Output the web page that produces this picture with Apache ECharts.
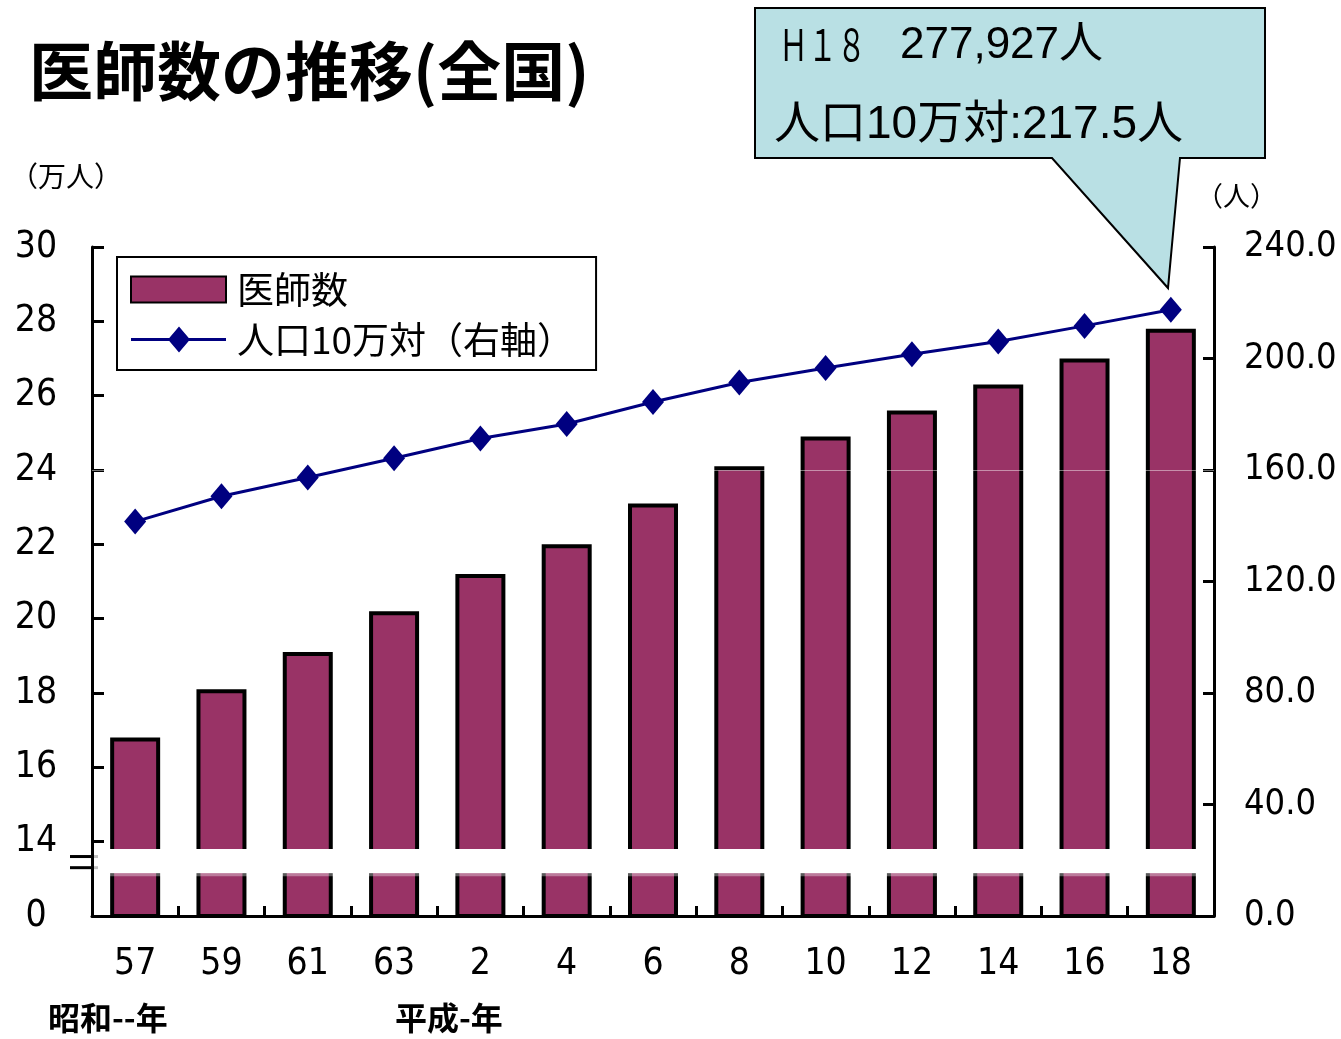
<!DOCTYPE html>
<html><head><meta charset="utf-8">
<script src="https://cdn.jsdelivr.net/npm/echarts@6/dist/echarts.min.js"></script>
<style>html,body{margin:0;padding:0;background:#fff}#c{width:1341px;height:1039px}</style>
</head><body><div id="c"></div>
<script>
// ---- data ----
var categories = ['57','59','61','63','2','4','6','8','10','12','14','16','18'];
var doctors = [16.8, 18.1, 19.1, 20.2, 21.2, 22.0, 23.1, 24.1, 24.9, 25.6, 26.3, 27.0, 27.8]; // 万人
var per100k = [141.5, 150.6, 157.3, 164.2, 171.3, 176.5, 184.4, 191.4, 196.6, 201.5, 206.1, 211.7, 217.5]; // 人
var leftTicks = {12:'0',14:'14',16:'16',18:'18',20:'20',22:'22',24:'24',26:'26',28:'28',30:'30'};
var seriesNames = ['医師数','人口10万対（右軸）'];

var NARROW = "'Liberation Sans Narrow','DejaVu Sans Condensed','Noto Sans CJK JP',sans-serif";
var CJK = "'Noto Sans CJK JP',sans-serif";
var chart = echarts.init(document.getElementById('c'), null, {renderer:'canvas'});

chart.setOption({
  animation:false,
  backgroundColor:'#fff',
  title:{text:'医師数の推移(全国)', left:24, top:34,
    textStyle:{fontSize:64, fontWeight:'bold', fontFamily:CJK, color:'#000'}},
  legend:{
    orient:'vertical', left:117, top:257,
    padding:[14,22,12,13], borderColor:'#000', borderWidth:2, backgroundColor:'#fff',
    itemWidth:95, itemHeight:26, itemGap:13,
    textStyle:{fontSize:37, fontFamily:CJK, color:'#000', padding:[0,0,0,6]},
    data:[{name:seriesNames[0], icon:'rect'},
          {name:seriesNames[1], icon:'path://M0 11.5 H95 V14.5 H0 Z M48 0 L59 13 L48 26 L37 13 Z'}]
  },
  grid:{left:92, right:127, top:247, bottom:123, outerBoundsMode:'none', containLabel:false},
  xAxis:{type:'category', data:categories,
    axisLine:{lineStyle:{color:'#000', width:3}},
    axisTick:{show:true, inside:true, length:10, lineStyle:{color:'#000', width:3}},
    axisLabel:{fontSize:37, fontFamily:NARROW, color:'#000', margin:30}},
  yAxis:[
    {type:'value', min:12, max:30, interval:2,
      axisLine:{show:true, lineStyle:{color:'#000', width:3}},
      axisTick:{show:true, inside:true, length:12, lineStyle:{color:'#000', width:3}},
      splitLine:{show:false},
      axisLabel:{fontSize:37, fontFamily:NARROW, color:'#000', margin:56, align:'center',
        formatter:function(v){return leftTicks[v]!==undefined?leftTicks[v]:'';}}},
    {type:'value', min:0, max:240, interval:40, position:'right',
      axisLine:{show:true, lineStyle:{color:'#000', width:3}},
      axisTick:{show:true, inside:true, length:11, lineStyle:{color:'#000', width:3}},
      splitLine:{show:false},
      axisLabel:{fontSize:36, fontFamily:NARROW, color:'#000', margin:30, align:'left',
        formatter:function(v){return v.toFixed(1);}}}
  ],
  series:[
    {name:seriesNames[0], type:'bar', data:doctors, barWidth:50, yAxisIndex:0,
      itemStyle:{color:'#993366', borderColor:'#000', borderWidth:4},
      markLine:{silent:true, symbol:'none', label:{show:false},
        lineStyle:{color:'rgba(255,255,255,0.45)', width:1, type:'solid'},
        data:[{yAxis:24}]}},
    {name:seriesNames[1], type:'line', data:per100k, yAxisIndex:1,
      symbol:'diamond', symbolSize:[22,26],
      lineStyle:{color:'#000080', width:3}, itemStyle:{color:'#000080'}, z:5}
  ]
});

// axis break decoration and annotations
var g = [];
var yTop = chart.convertToPixel({yAxisIndex:0}, 13.8);
var yBot = chart.convertToPixel({yAxisIndex:0}, 13.15);
var y1 = chart.convertToPixel({yAxisIndex:0}, 13.6);
var y2 = chart.convertToPixel({yAxisIndex:0}, 13.3);
var half = (chart.convertToPixel({xAxisIndex:0}, 1) - chart.convertToPixel({xAxisIndex:0}, 0)) / 2;
var xl = chart.convertToPixel({xAxisIndex:0}, 0) - half;
var xr = chart.convertToPixel({xAxisIndex:0}, categories.length-1) + half;
g.push({type:'rect', shape:{x:xl+2, y:yTop, width:xr-xl-4, height:yBot-yTop}, style:{fill:'#fff'}, z:100});
g.push({type:'rect', shape:{x:xl+2, y:yBot, width:xr-xl-4, height:3}, style:{fill:'rgba(255,255,255,0.35)'}, z:100});
g.push({type:'line', shape:{x1:xl-22, y1:y1, x2:xl, y2:y1}, style:{stroke:'#000', lineWidth:3}, z:101});
g.push({type:'line', shape:{x1:xl-22, y1:y2, x2:xl, y2:y2}, style:{stroke:'#000', lineWidth:3}, z:101});
g.push({type:'line', shape:{x1:xl+1, y1:y1, x2:xl+6, y2:y1}, style:{stroke:'rgba(0,0,0,0.25)', lineWidth:3}, z:101});
g.push({type:'line', shape:{x1:xl+1, y1:y2, x2:xl+6, y2:y2}, style:{stroke:'rgba(0,0,0,0.25)', lineWidth:3}, z:101});
// axis unit labels
g.push({type:'text', left:10, top:162, style:{text:'（万人）', font:'28px '+CJK, fill:'#000'}, z:110});
g.push({type:'text', left:1196, top:182, style:{text:'（人）', font:'27px '+CJK, fill:'#000'}, z:110});
// era labels
g.push({type:'text', left:48, top:1002, style:{text:'昭和--年', font:'bold 32px '+CJK, fill:'#000'}, z:110});
g.push({type:'text', left:395, top:1002, style:{text:'平成-年', font:'bold 32px '+CJK, fill:'#000'}, z:110});
// callout
g.push({type:'polygon', shape:{points:[[755,8],[1265,8],[1265,158],[1180,158],[1168,288],[1052,158],[755,158]]},
  style:{fill:'#B9E0E4', stroke:'#000', lineWidth:2}, z:120});
g.push({type:'text', x:779, y:22, scaleX:0.66, style:{text:'Ｈ１８', font:'44px '+CJK, fill:'#000'}, z:121});
g.push({type:'text', x:900, y:24, style:{text:'277,927人', font:"44px 'Liberation Sans','Noto Sans CJK JP',sans-serif", fill:'#000'}, z:121});
g.push({type:'text', x:774, y:102, style:{text:'人口10万対:217.5人', font:"46px 'Liberation Sans','Noto Sans CJK JP',sans-serif", fill:'#000'}, z:121});
chart.setOption({graphic:g});
</script></body></html>
